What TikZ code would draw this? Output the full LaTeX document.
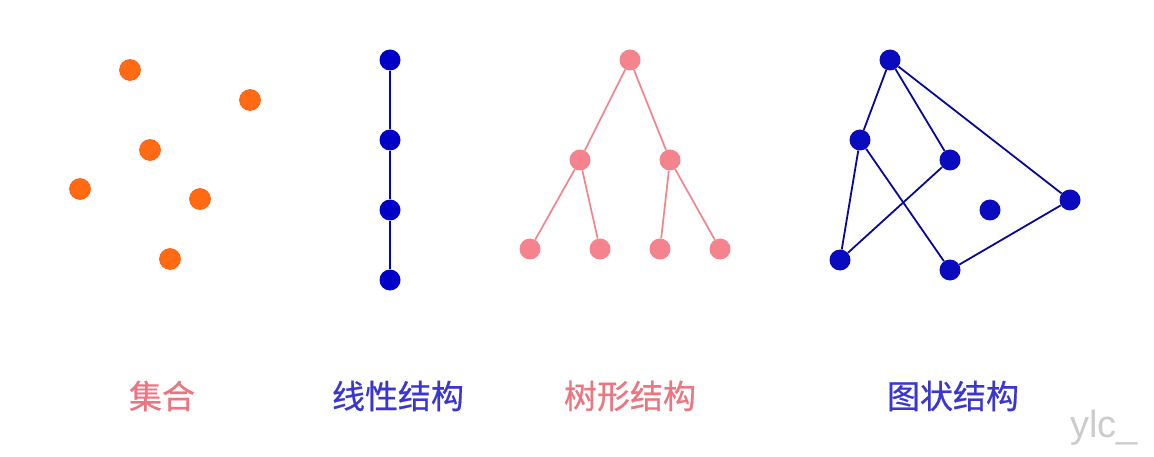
\documentclass[tikz,border=0pt]{standalone}
\usepackage{fontspec}
\newfontfamily\cjk[FakeBold=0.6]{Noto Sans CJK SC}
\setmainfont{Liberation Sans}
\definecolor{setorange}{HTML}{FF6A12}
\definecolor{linblue}{HTML}{0000C8}
\definecolor{treepink}{HTML}{F5838D}
\definecolor{labpink}{HTML}{EC7680}
\definecolor{labblue}{HTML}{3A36D0}
\definecolor{grblue}{HTML}{0A0ABF}
\tikzset{
  dot/.style={circle, inner sep=0pt, minimum size=21pt},
  setdot/.style={dot, fill=setorange, draw=setorange!85!red, line width=0.6pt},
  lindot/.style={dot, fill=linblue},
  treedot/.style={dot, fill=treepink},
  grdot/.style={dot, fill=grblue},
  linedge/.style={draw=linblue, line width=1.8pt},
  treeedge/.style={draw=treepink, line width=1.7pt},
  gredge/.style={draw=grblue!80!black, line width=1.8pt},
  lab/.style={font=\cjk\fontsize{33}{38}\selectfont, anchor=center}
}
\begin{document}
\begin{tikzpicture}[x=1pt,y=-1pt]
\useasboundingbox[fill=white] (0,0) rectangle (1154,457);
% set
\node[setdot] (s1) at (130,70) {};
\node[setdot] (s2) at (250,100) {};
\node[setdot] (s3) at (150,150) {};
\node[setdot] (s4) at (80,189) {};
\node[setdot] (s5) at (200,199) {};
\node[setdot] (s6) at (170,259) {};
% linear
\node[lindot] (l1) at (390,60) {};
\node[lindot] (l2) at (390,140) {};
\node[lindot] (l3) at (390,210) {};
\node[lindot] (l4) at (390,280) {};
\path[linedge] (l1) -- (l2) (l2) -- (l3) (l3) -- (l4);
% tree
\node[treedot] (t0) at (630,60) {};
\node[treedot] (t1) at (580,160) {};
\node[treedot] (t2) at (670,160) {};
\node[treedot] (t3) at (530,249) {};
\node[treedot] (t4) at (600,249) {};
\node[treedot] (t5) at (660,249) {};
\node[treedot] (t6) at (720,249) {};
\path[treeedge] (t0) -- (t1) (t0) -- (t2) (t1) -- (t3) (t1) -- (t4) (t2) -- (t5) (t2) -- (t6);
% graph
\node[grdot] (ga) at (890,60) {};
\node[grdot] (gb) at (860,140) {};
\node[grdot] (gc) at (950,160) {};
\node[grdot] (gd) at (1070,200) {};
\node[grdot] (ge) at (990,210) {};
\node[grdot] (gf) at (840,260) {};
\node[grdot] (gg) at (950,270) {};
\path[gredge] (ga) -- (gb) (ga) -- (gc) (ga) -- (gd) (gb) -- (gf) (gb) -- (gg) (gc) -- (gf) (gd) -- (gg);
% labels
\node[lab, text=labpink] (L1) at (162,396) {集合};
\node[lab, text=labblue] (L2) at (398,396) {线性结构};
\node[lab, text=labpink] (L3) at (630,396) {树形结构};
\node[lab, text=labblue] (L4) at (953,396) {图状结构};
\node[font=\fontsize{38}{42}\selectfont, text=black!20, anchor=center] (wm) at (1104,428) {ylc\_};
\end{tikzpicture}
\end{document}
